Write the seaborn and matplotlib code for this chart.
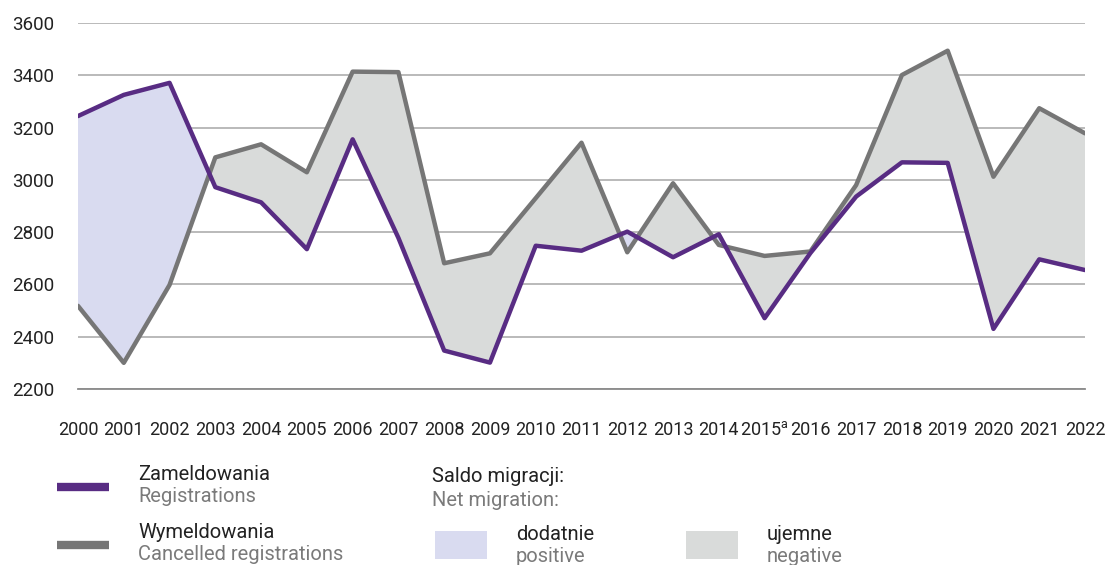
import matplotlib
matplotlib.use("Agg")
import matplotlib.pyplot as plt
import seaborn as sns
import numpy as np
import pandas as pd
from matplotlib.patches import Rectangle
from matplotlib.lines import Line2D

years = list(range(2000, 2023))
zameldowania = [3244, 3325, 3371, 2972, 2914, 2735, 3155, 2778, 2347, 2301, 2748,
                2729, 2802, 2704, 2792, 2471, 2720, 2936, 3067, 3065, 2430, 2696, 2655]
wymeldowania = [2518, 2300, 2598, 3086, 3136, 3029, 3414, 3412, 2681, 2719, 2930,
                3142, 2723, 2987, 2751, 2709, 2726, 2980, 3401, 3494, 3012, 3274, 3178]
xlabels = [str(y) for y in years]
xlabels[15] = r"2015$^{\mathregular{a}}$"
yticks = [2200, 2400, 2600, 2800, 3000, 3200, 3400, 3600]

PURPLE = "#582c83"
GRAY = "#767676"
LAV = "#d9dbf0"
LGRAY = "#d9dbda"
TXT = "#222222"
SUB = "#7a7a7a"

sns.set_theme(style="white")
plt.rcParams['font.family'] = ['Roboto', 'DejaVu Sans']
plt.rcParams['mathtext.fontset'] = 'custom'
plt.rcParams['mathtext.rm'] = 'Roboto'

df = pd.DataFrame({"year": years, "Zameldowania": zameldowania, "Wymeldowania": wymeldowania})

fig = plt.figure(figsize=(11.07, 5.65), dpi=100)
ax = fig.add_axes([78/1107, 1-389/565, (1085-78)/1107, (389-23)/565])

x = np.array(years, dtype=float)
z = np.array(zameldowania, dtype=float)
w = np.array(wymeldowania, dtype=float)
ax.fill_between(x, z, w, where=z >= w, interpolate=True, color=LAV, lw=0, zorder=1)
ax.fill_between(x, z, w, where=z <= w, interpolate=True, color=LGRAY, lw=0, zorder=1)

sns.lineplot(data=df, x="year", y="Wymeldowania", ax=ax, color=GRAY, lw=3.2, zorder=3)
sns.lineplot(data=df, x="year", y="Zameldowania", ax=ax, color=PURPLE, lw=3.2, zorder=4)

ax.set_xlim(2000, 2022)
ax.set_ylim(2200, 3600)
ax.set_yticks(yticks)
ax.set_yticklabels([str(v) for v in yticks], fontsize=13.5, color=TXT)
ax.set_xticks(years)
ax.set_xticklabels(xlabels, fontsize=13, color=TXT)
ax.set_xlabel("")
ax.set_ylabel("")
for s in ["top", "right", "left"]:
    ax.spines[s].set_visible(False)
ax.spines["bottom"].set_color("#8a8a8a")
ax.spines["bottom"].set_linewidth(1.3)
ax.tick_params(axis="x", direction="out", length=5, width=1.3, color="#8a8a8a", pad=18)
ax.tick_params(axis="y", length=0, pad=17)
ax.yaxis.grid(True, color="#b4b4b4", lw=1.3, zorder=0)
ax.xaxis.grid(False)
ax.set_axisbelow(True)

def fx(px):
    return px / 1107
def fy(py):
    return 1 - py / 565

LFS = 14.5
# legend: lines
fig.add_artist(Line2D([fx(57), fx(109)], [fy(487), fy(487)], color=PURPLE, lw=6, solid_capstyle="butt"))
fig.add_artist(Line2D([fx(57), fx(109)], [fy(545), fy(545)], color=GRAY, lw=6, solid_capstyle="butt"))
fig.text(fx(138), fy(474), "Zameldowania", fontsize=LFS, color=TXT, va="center", ha="left")
fig.text(fx(138), fy(497), "Registrations", fontsize=LFS, color=SUB, va="center", ha="left")
fig.text(fx(138), fy(532), "Wymeldowania", fontsize=LFS, color=TXT, va="center", ha="left")
fig.text(fx(138), fy(555), "Cancelled registrations", fontsize=LFS, color=SUB, va="center", ha="left")

fig.text(fx(432), fy(477), "Saldo migracji:", fontsize=LFS, color=TXT, va="center", ha="left")
fig.text(fx(432), fy(500), "Net migration:", fontsize=LFS, color=SUB, va="center", ha="left")

fig.add_artist(Rectangle((fx(435), fy(559)), fx(52), 28/565, color=LAV, lw=0))
fig.add_artist(Rectangle((fx(686), fy(559)), fx(52), 28/565, color=LGRAY, lw=0))
fig.text(fx(516), fy(534), "dodatnie", fontsize=LFS, color=TXT, va="center", ha="left")
fig.text(fx(516), fy(557), "positive", fontsize=LFS, color=SUB, va="center", ha="left")
fig.text(fx(767), fy(534), "ujemne", fontsize=LFS, color=TXT, va="center", ha="left")
fig.text(fx(767), fy(557), "negative", fontsize=LFS, color=SUB, va="center", ha="left")

fig.savefig("out.png", dpi=100)
